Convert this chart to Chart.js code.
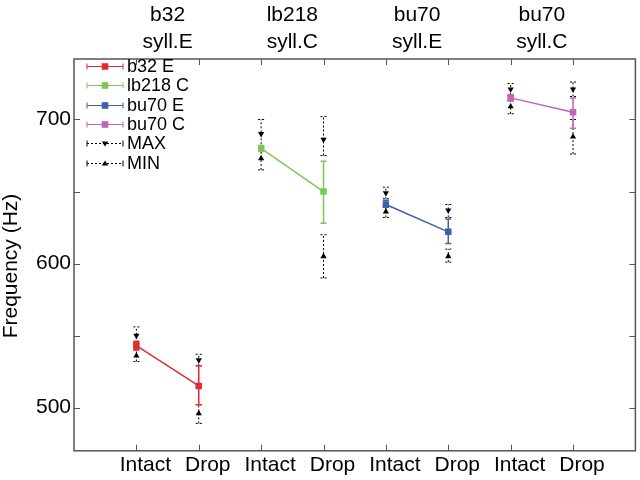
<!DOCTYPE html>
<html>
<head>
<meta charset="utf-8">
<script src="https://cdn.jsdelivr.net/npm/chart.js@4"></script>
<style>
  html, body { margin: 0; padding: 0; background: #fff; }
  #wrap { width: 640px; height: 480px; }
</style>
</head>
<body>
<div id="wrap"><canvas id="myChart"></canvas></div>
<script>
var FONT = "'Liberation Sans', Arial, Helvetica, sans-serif";

// categories / labels
var xTicks = ["Intact", "Drop", "Intact", "Drop", "Intact", "Drop", "Intact", "Drop"];
var groupTop = ["b32", "lb218", "bu70", "bu70"];
var groupBottom = ["syll.E", "syll.C", "syll.E", "syll.C"];
var yTickMarks = [500, 550, 600, 650, 700];
var yLabels = [500, 600, 700];

// series (Intact, Drop)
var seriesNames = ["b32 E", "lb218 C", "bu70 E", "bu70 C"];
var seriesColors = ["#e42a2e", "#7bc858", "#3e5fac", "#c064b6"];
var meanB32 = [543, 515];
var meanLb218 = [680, 650];
var meanBu70E = [641, 622];
var meanBu70C = [715, 705];

// error bars of the means, one per category position
var meanLo = [540, 502, 678, 628, 639, 614, 713, 694];
var meanHi = [546, 529, 682, 671, 644, 631, 717, 715];

// MAX / MIN markers and their bars
var maxVals = [550, 533, 690, 686, 649, 637, 721, 721];
var maxLo = [545, 529, 680, 675, 645, 632, 717, 716];
var maxHi = [556, 537, 700, 702, 653, 641, 725, 726];
var minVals = [536, 496, 673, 605, 636, 605, 709, 688];
var minLo = [532, 489, 665, 590, 632, 601, 704, 676];
var minHi = [540, 502, 681, 620, 639, 610, 713, 700];

var means = [meanB32, meanLb218, meanBu70E, meanBu70C];

function pts(arr, start) {
  return arr.map(function (v, i) { return { x: start + i, y: v }; });
}

var datasets = means.map(function (m, k) {
  return {
    label: seriesNames[k],
    data: pts(m, 2 * k + 1),
    borderColor: seriesColors[k],
    backgroundColor: seriesColors[k],
    borderWidth: 1.5,
    pointStyle: "rect",
    pointRadius: 4.6,
    pointBorderWidth: 0,
    order: 1
  };
});
datasets.push({
  label: "MAX",
  data: pts(maxVals, 1),
  showLine: false,
  pointStyle: "triangle",
  rotation: 180,
  pointRadius: 3.6,
  backgroundColor: "#000",
  borderColor: "#000",
  borderWidth: 0,
  order: 2
});
datasets.push({
  label: "MIN",
  data: pts(minVals, 1),
  showLine: false,
  pointStyle: "triangle",
  pointRadius: 3.6,
  backgroundColor: "#000",
  borderColor: "#000",
  borderWidth: 0,
  order: 2
});

function vbar(ctx, x, y1, y2, cap) {
  ctx.beginPath();
  ctx.moveTo(x, y1); ctx.lineTo(x, y2);
  ctx.moveTo(x - cap, y1); ctx.lineTo(x + cap, y1);
  ctx.moveTo(x - cap, y2); ctx.lineTo(x + cap, y2);
  ctx.stroke();
}

var errorBars = {
  id: "errorBars",
  beforeDatasetsDraw: function (chart) {
    var ctx = chart.ctx, xs = chart.scales.x, ys = chart.scales.y;
    ctx.save();
    for (var i = 0; i < xTicks.length; i++) {
      var x = xs.getPixelForValue(i + 1);
      ctx.strokeStyle = "#000";
      ctx.lineWidth = 1;
      ctx.setLineDash([2, 2]);
      vbar(ctx, x, ys.getPixelForValue(maxLo[i]), ys.getPixelForValue(maxHi[i]), 3);
      vbar(ctx, x, ys.getPixelForValue(minLo[i]), ys.getPixelForValue(minHi[i]), 3);
      ctx.setLineDash([]);
      ctx.strokeStyle = seriesColors[Math.floor(i / 2)];
      ctx.lineWidth = 1.5;
      vbar(ctx, x, ys.getPixelForValue(meanLo[i]), ys.getPixelForValue(meanHi[i]), 3);
    }
    ctx.restore();
  }
};

var frameAndText = {
  id: "frameAndText",
  afterDraw: function (chart) {
    var ctx = chart.ctx, a = chart.chartArea, xs = chart.scales.x, ys = chart.scales.y;
    ctx.save();
    // box
    ctx.strokeStyle = "#555";
    ctx.lineWidth = 1.5;
    ctx.strokeRect(a.left, a.top, a.right - a.left, a.bottom - a.top);
    ctx.lineWidth = 1;
    ctx.beginPath();
    for (var i = 0; i < xTicks.length; i++) {
      var x = Math.round(xs.getPixelForValue(i + 1)) + 0.5;
      ctx.moveTo(x, a.bottom); ctx.lineTo(x, a.bottom - 6);
      ctx.moveTo(x, a.top); ctx.lineTo(x, a.top + 6);
    }
    yTickMarks.forEach(function (v) {
      var y = Math.round(ys.getPixelForValue(v)) + 0.5;
      ctx.moveTo(a.left, y); ctx.lineTo(a.left + 6, y);
      ctx.moveTo(a.right, y); ctx.lineTo(a.right - 6, y);
    });
    ctx.stroke();

    // group labels above the plot
    ctx.fillStyle = "#000";
    ctx.font = "21px " + FONT;
    ctx.textAlign = "center";
    ctx.textBaseline = "alphabetic";
    for (var g = 0; g < groupTop.length; g++) {
      var gx = xs.getPixelForValue(2 * g + 1.5);
      ctx.fillText(groupTop[g], gx, 21);
      ctx.fillText(groupBottom[g], gx, 48);
    }

    // y title
    ctx.save();
    ctx.translate(11, 266);
    ctx.rotate(-Math.PI / 2);
    ctx.textBaseline = "middle";
    ctx.fillText("Frequency (Hz)", 0, 0);
    ctx.restore();

    // legend
    var lx1 = 87, lx2 = 123, mx = 105, tx = 127;
    var rows = seriesNames.concat(["MAX", "MIN"]);
    ctx.font = "18px " + FONT;
    ctx.textAlign = "left";
    ctx.textBaseline = "middle";
    rows.forEach(function (name, r) {
      var y = Math.round(66 + r * 19.3) + 0.5;
      var isMark = r >= 4;
      ctx.strokeStyle = isMark ? "#000" : seriesColors[r];
      ctx.lineWidth = 1;
      ctx.setLineDash(isMark ? [2, 2] : []);
      ctx.beginPath();
      ctx.moveTo(lx1, y); ctx.lineTo(lx2, y);
      ctx.stroke();
      ctx.setLineDash([]);
      ctx.beginPath();
      ctx.moveTo(lx1, y - 3); ctx.lineTo(lx1, y + 3);
      ctx.moveTo(lx2, y - 3); ctx.lineTo(lx2, y + 3);
      ctx.stroke();
      ctx.fillStyle = isMark ? "#000" : seriesColors[r];
      ctx.beginPath();
      if (!isMark) {
        ctx.rect(mx - 3.3, y - 3.3, 6.6, 6.6);
      } else if (name === "MAX") {
        ctx.moveTo(mx - 3.2, y - 2); ctx.lineTo(mx + 3.2, y - 2); ctx.lineTo(mx, y + 3);
      } else {
        ctx.moveTo(mx - 3.2, y + 2); ctx.lineTo(mx + 3.2, y + 2); ctx.lineTo(mx, y - 3);
      }
      ctx.fill();
      ctx.fillStyle = "#000";
      ctx.fillText(name, tx, y + 1);
    });
    ctx.restore();
  }
};

var ctx = document.getElementById("myChart").getContext("2d");

var options = {
  responsive: true,
  maintainAspectRatio: false,
  animation: false,
  layout: { padding: { top: 59, right: 2, bottom: 0, left: 0 } },
  plugins: {
    legend: { display: false },
    tooltip: { enabled: false }
  },
  scales: {
    x: {
      type: "linear",
      min: 0,
      max: 9,
      grid: { display: false, drawTicks: false },
      border: { display: false },
      afterBuildTicks: function (s) {
        s.ticks = xTicks.map(function (t, i) { return { value: i + 1 }; });
      },
      ticks: {
        autoSkip: false,
        maxRotation: 0,
        color: "#000",
        padding: 2,
        labelOffset: 9,
        font: { family: FONT, size: 21 },
        callback: function (value) { return xTicks[value - 1]; }
      }
    },
    y: {
      min: 470,
      max: 742,
      grid: { display: false, drawTicks: false },
      border: { display: false },
      afterBuildTicks: function (s) {
        s.ticks = yLabels.map(function (v) { return { value: v }; });
      },
      afterFit: function (s) { s.width = 74; },
      ticks: {
        color: "#000",
        padding: 3,
        font: { family: FONT, size: 21 }
      }
    }
  }
};

var myChart = new Chart(ctx, {
  type: "line",
  data: { datasets: datasets },
  options: options,
  plugins: [errorBars, frameAndText]
});
</script>
</body>
</html>
